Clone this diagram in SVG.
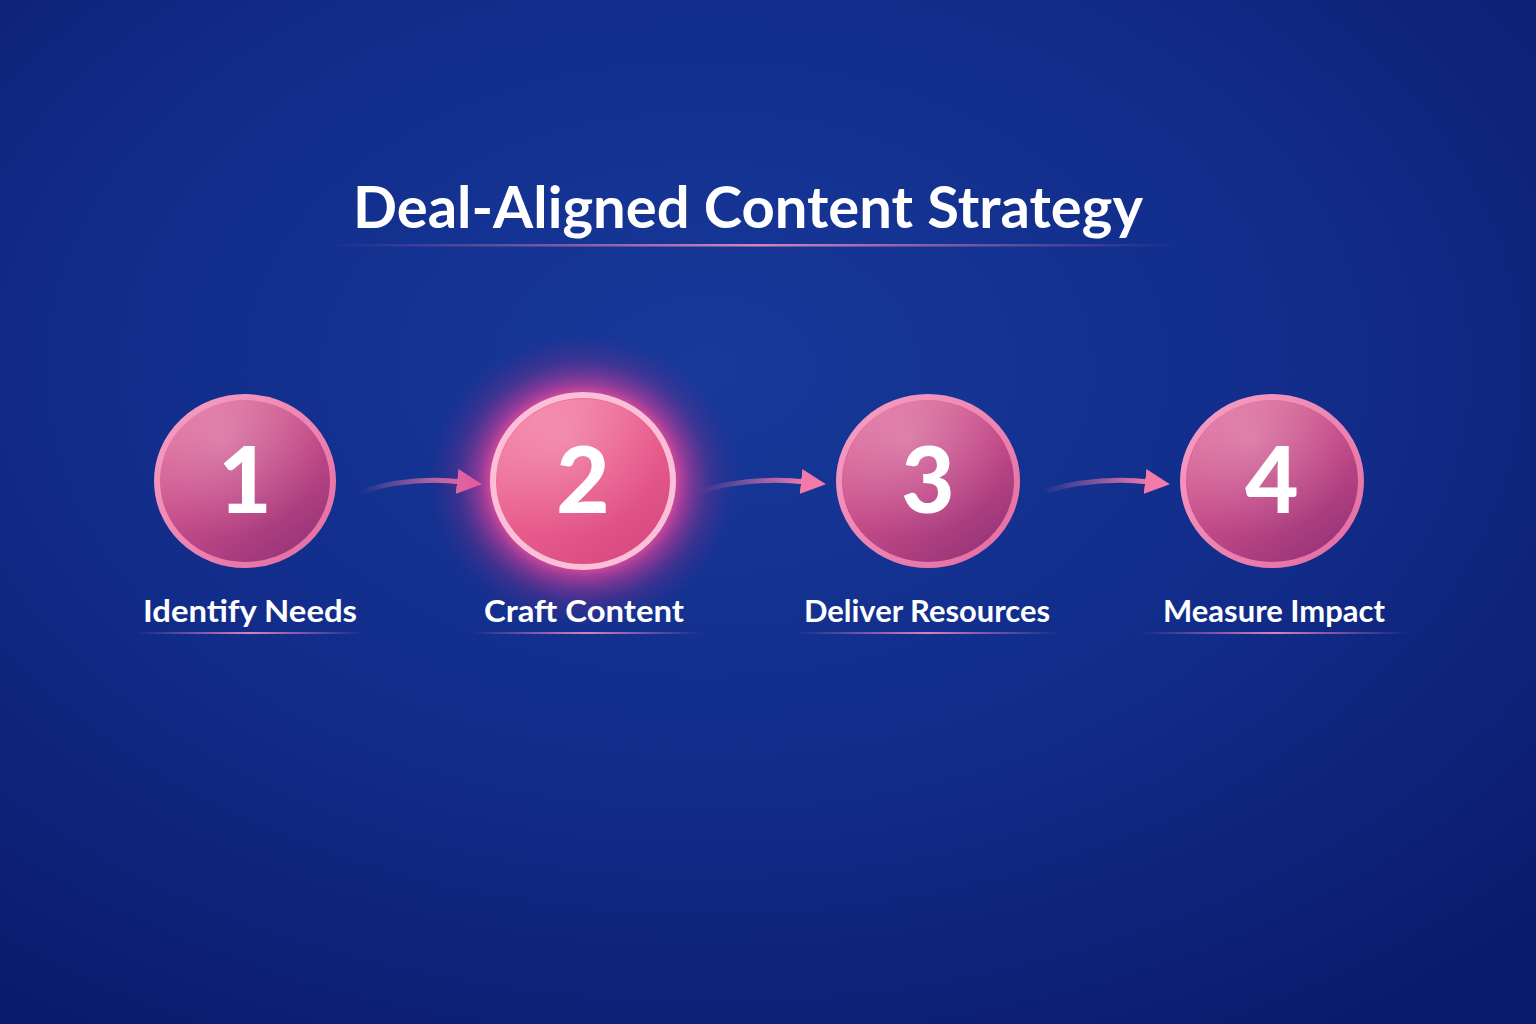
<svg xmlns="http://www.w3.org/2000/svg" width="1536" height="1024" viewBox="0 0 1536 1024">
<defs>
<radialGradient id="bg" cx="0.46" cy="0.36" r="0.78">
<stop offset="0" stop-color="#17399a"/>
<stop offset="0.55" stop-color="#112b88"/>
<stop offset="1" stop-color="#0a1a6a"/>
</radialGradient>
<linearGradient id="ball" x1="0.2" y1="0.1" x2="0.8" y2="0.95">
<stop offset="0" stop-color="#de6c9c"/>
<stop offset="0.5" stop-color="#c24a88"/>
<stop offset="1" stop-color="#983478"/>
</linearGradient>
<linearGradient id="ball2" x1="0.2" y1="0.1" x2="0.8" y2="0.95">
<stop offset="0" stop-color="#f27aa2"/>
<stop offset="0.5" stop-color="#e85c8c"/>
<stop offset="1" stop-color="#d84a80"/>
</linearGradient>
<linearGradient id="rim" x1="0" y1="0" x2="1" y2="1">
<stop offset="0" stop-color="#f7a0c4"/>
<stop offset="1" stop-color="#e46aa0"/>
</linearGradient>
<radialGradient id="glow" cx="0.5" cy="0.5" r="0.5">
<stop offset="0.55" stop-color="#ff5aa0" stop-opacity="0.95"/>
<stop offset="0.66" stop-color="#e8409a" stop-opacity="0.6"/>
<stop offset="0.82" stop-color="#a8308c" stop-opacity="0.25"/>
<stop offset="1" stop-color="#7a2a8a" stop-opacity="0"/>
</radialGradient>
<radialGradient id="shine" cx="0.38" cy="0.25" r="0.6">
<stop offset="0" stop-color="#ffffff" stop-opacity="0.22"/>
<stop offset="1" stop-color="#ffffff" stop-opacity="0"/>
</radialGradient>
<linearGradient id="uline" x1="0" y1="0" x2="1" y2="0">
<stop offset="0" stop-color="#e67ab4" stop-opacity="0"/>
<stop offset="0.5" stop-color="#f08cc0" stop-opacity="0.9"/>
<stop offset="1" stop-color="#e67ab4" stop-opacity="0"/>
</linearGradient>
<linearGradient id="arr" x1="0" y1="0" x2="1" y2="0">
<stop offset="0" stop-color="#f07aaa" stop-opacity="0"/>
<stop offset="1" stop-color="#f27aa8"/>
</linearGradient>
<marker id="head" viewBox="0 0 10 10" refX="2" refY="5" markerWidth="5" markerHeight="5" orient="auto" markerUnits="strokeWidth">
<path d="M0,0 L10,5 L0,10 Z" fill="#f27aa8"/>
</marker>
</defs>
<style>
.title{font-family:Lato,"Open Sans","Liberation Sans",sans-serif;font-weight:700;font-size:58px;fill:#ffffff}
.num{font-family:Lato,"Open Sans","Liberation Sans",sans-serif;font-weight:900;font-size:92px;fill:#ffffff}
.lbl{font-family:Lato,"Open Sans","Liberation Sans",sans-serif;font-weight:700;font-size:31px;fill:#ffffff}
.rim{fill:url(#ball);stroke:url(#rim);stroke-width:6}
.conn{fill:none;stroke:url(#arr);stroke-width:5;stroke-linecap:round}
</style>
<rect width="1536" height="1024" fill="url(#bg)"/>
<g id="title">
<text class="title" x="748" y="228" text-anchor="middle" textLength="790" lengthAdjust="spacingAndGlyphs">Deal-Aligned Content Strategy</text>
<rect x="330" y="244" width="850" height="2.5" fill="url(#uline)"/>
</g>
<g id="connectors">
<path class="conn" d="M360,492 Q410,476 462,482" marker-end="url(#head)"/>
<path class="conn" d="M698,492 Q750,476 806,482" marker-end="url(#head)"/>
<path class="conn" d="M1042,492 Q1095,476 1150,482" marker-end="url(#head)"/>
</g>
<g id="step1">
<ellipse cx="245" cy="481" rx="88" ry="84" class="rim"/>
<ellipse cx="245" cy="481" rx="85" ry="81" fill="url(#shine)"/>
<text class="num" x="245" y="513" text-anchor="middle">1</text>
<text class="lbl" x="250" y="622" text-anchor="middle" textLength="214" lengthAdjust="spacingAndGlyphs">Identify Needs</text>
<rect x="135" y="632" width="230" height="2" fill="url(#uline)"/>
</g>
<g id="step2">
<ellipse cx="583" cy="481" rx="155" ry="148" fill="url(#glow)"/>
<ellipse cx="583" cy="481" rx="90" ry="86" fill="url(#ball2)" stroke="#fbc0d8" stroke-width="6"/>
<ellipse cx="583" cy="481" rx="86" ry="82" fill="url(#shine)"/>
<text class="num" x="583" y="513" text-anchor="middle">2</text>
<text class="lbl" x="584" y="622" text-anchor="middle" textLength="200" lengthAdjust="spacingAndGlyphs">Craft Content</text>
<rect x="470" y="632" width="232" height="2" fill="url(#uline)"/>
</g>
<g id="step3">
<ellipse cx="928" cy="481" rx="89" ry="84" class="rim"/>
<ellipse cx="928" cy="481" rx="85" ry="81" fill="url(#shine)"/>
<text class="num" x="928" y="513" text-anchor="middle">3</text>
<text class="lbl" x="927" y="622" text-anchor="middle" textLength="246" lengthAdjust="spacingAndGlyphs">Deliver Resources</text>
<rect x="795" y="632" width="265" height="2" fill="url(#uline)"/>
</g>
<g id="step4">
<ellipse cx="1272" cy="481" rx="89" ry="84" class="rim"/>
<ellipse cx="1272" cy="481" rx="85" ry="81" fill="url(#shine)"/>
<text class="num" x="1272" y="513" text-anchor="middle">4</text>
<text class="lbl" x="1274" y="622" text-anchor="middle" textLength="222" lengthAdjust="spacingAndGlyphs">Measure Impact</text>
<rect x="1140" y="632" width="268" height="2" fill="url(#uline)"/>
</g>
</svg>
